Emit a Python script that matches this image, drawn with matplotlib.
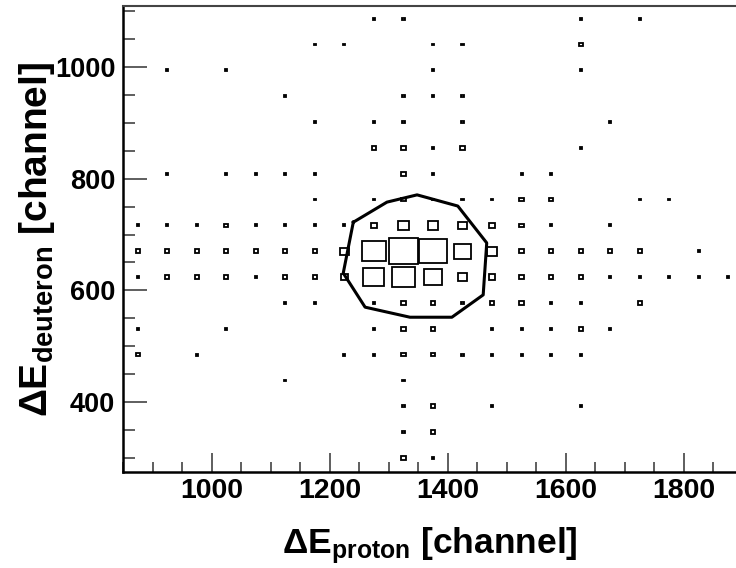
import matplotlib
matplotlib.use('Agg')
import matplotlib.pyplot as plt
from matplotlib.patches import Rectangle
from matplotlib.ticker import MultipleLocator

plt.rcParams['font.family'] = ['Liberation Sans', 'DejaVu Sans']
plt.rcParams['font.weight'] = 'bold'
plt.rcParams['mathtext.default'] = 'regular'

# 2D histogram binning (channels)
x_range = (850, 1900)
y_range = (277, 1109.5)

# bin contents, top row first, 21 columns (875 ... 1875)
counts = [
    [0, 0, 0, 0, 0, 0, 0, 0, 1, 1, 0, 0, 0, 0, 0, 1, 0, 1, 0, 0, 0],
    [0, 0, 0, 0, 0, 0, 1, 1, 0, 0, 1, 1, 0, 0, 0, 2, 0, 0, 0, 0, 0],
    [0, 1, 0, 1, 0, 0, 0, 0, 0, 0, 1, 0, 0, 0, 0, 1, 0, 0, 0, 0, 0],
    [0, 0, 0, 0, 0, 1, 0, 0, 0, 1, 1, 1, 0, 0, 0, 0, 0, 0, 0, 0, 0],
    [0, 0, 0, 0, 0, 0, 1, 0, 1, 1, 0, 1, 0, 0, 0, 0, 1, 0, 0, 0, 0],
    [0, 0, 0, 0, 0, 0, 0, 0, 2, 2, 1, 2, 0, 0, 0, 1, 0, 0, 0, 0, 0],
    [0, 1, 0, 1, 1, 1, 1, 0, 0, 2, 1, 0, 0, 1, 1, 0, 0, 0, 0, 0, 0],
    [0, 0, 0, 0, 0, 0, 1, 0, 1, 2, 1, 1, 1, 2, 2, 0, 0, 1, 1, 0, 0],
    [1, 1, 1, 2, 1, 1, 1, 1, 3, 5, 5, 4, 3, 2, 1, 0, 1, 0, 0, 0, 0],
    [2, 2, 2, 2, 2, 2, 2, 4, 11, 14, 13, 8, 5, 2, 2, 2, 2, 2, 0, 1, 0],
    [1, 2, 2, 2, 1, 2, 2, 3, 10, 11, 9, 4, 3, 2, 2, 2, 1, 1, 1, 1, 1],
    [0, 0, 0, 0, 0, 1, 1, 0, 1, 2, 2, 1, 2, 2, 1, 1, 0, 2, 0, 0, 0],
    [1, 0, 0, 1, 0, 0, 0, 0, 1, 2, 2, 0, 1, 1, 1, 2, 1, 0, 0, 0, 0],
    [2, 0, 1, 0, 0, 0, 0, 1, 1, 2, 2, 1, 1, 1, 1, 1, 0, 0, 0, 0, 0],
    [0, 0, 0, 0, 0, 1, 0, 0, 0, 1, 0, 0, 0, 0, 0, 0, 0, 0, 0, 0, 0],
    [0, 0, 0, 0, 0, 0, 0, 0, 0, 1, 2, 0, 1, 0, 0, 1, 0, 0, 0, 0, 0],
    [0, 0, 0, 0, 0, 0, 0, 0, 0, 1, 2, 0, 0, 0, 0, 0, 0, 0, 0, 0, 0],
    [0, 0, 0, 0, 0, 0, 0, 0, 0, 2, 1, 0, 0, 0, 0, 0, 0, 0, 0, 0, 0],
]

# graphical cut around the deuteron peak
cut_x = [1240, 1297, 1348, 1417, 1466, 1460, 1407, 1336, 1260, 1223, 1240]
cut_y = [722, 758, 771, 751, 685, 592, 552, 552, 570, 631, 722]

fig = plt.figure(figsize=(7.36, 5.68), dpi=100)
ax = fig.add_axes([123 / 736, 96 / 568, 620 / 736, 466 / 568])

rows = counts[::-1]
ny, nx = len(rows), len(rows[0])
dx = (x_range[1] - x_range[0]) / nx
dy = (y_range[1] - y_range[0]) / ny
cmax = max(max(r) for r in rows)

for j, row in enumerate(rows):
    for i, c in enumerate(row):
        if c <= 0:
            continue
        xc = x_range[0] + (i + 0.5) * dx
        yc = y_range[0] + (j + 0.5) * dy
        f = c / cmax
        w, h = dx * f, dy * f
        ax.add_patch(Rectangle((xc - w / 2, yc - h / 2), w, h, fill=False,
                               ec='black', lw=1.3))

ax.plot(cut_x, cut_y, color='black', lw=2.2)

ax.set_xlim(850, 1900)
ax.set_ylim(275, 1109)

ax.xaxis.set_major_locator(MultipleLocator(200))
ax.xaxis.set_minor_locator(MultipleLocator(50))
ax.yaxis.set_major_locator(MultipleLocator(200))
ax.yaxis.set_minor_locator(MultipleLocator(50))

ax.tick_params(which='both', direction='in', top=False, right=False,
               width=1.1, color='#333333')
ax.tick_params(axis='x', which='major', length=13.5, pad=4.5, labelsize=20.5)
ax.tick_params(axis='x', which='minor', length=7)
ax.tick_params(axis='y', which='major', length=17, pad=5.5, labelsize=19.5)
ax.tick_params(axis='y', which='minor', length=8.5)

for s in ax.spines.values():
    s.set_linewidth(1.8)
ax.spines['top'].set_linewidth(1.5)
ax.spines['top'].set_color('#444444')

ax.set_xlabel(r'ΔE$_{proton}$ [channel]', fontsize=25.5, fontweight='bold')
ax.set_ylabel(r'ΔE$_{deuteron}$ [channel]', fontsize=28, fontweight='bold')
ax.xaxis.set_label_coords(0.495, -0.115)
ax.yaxis.set_label_coords(-0.107, 0.5)
ax.xaxis.label.set_va('top')

fig.savefig('out.png', dpi=100)
